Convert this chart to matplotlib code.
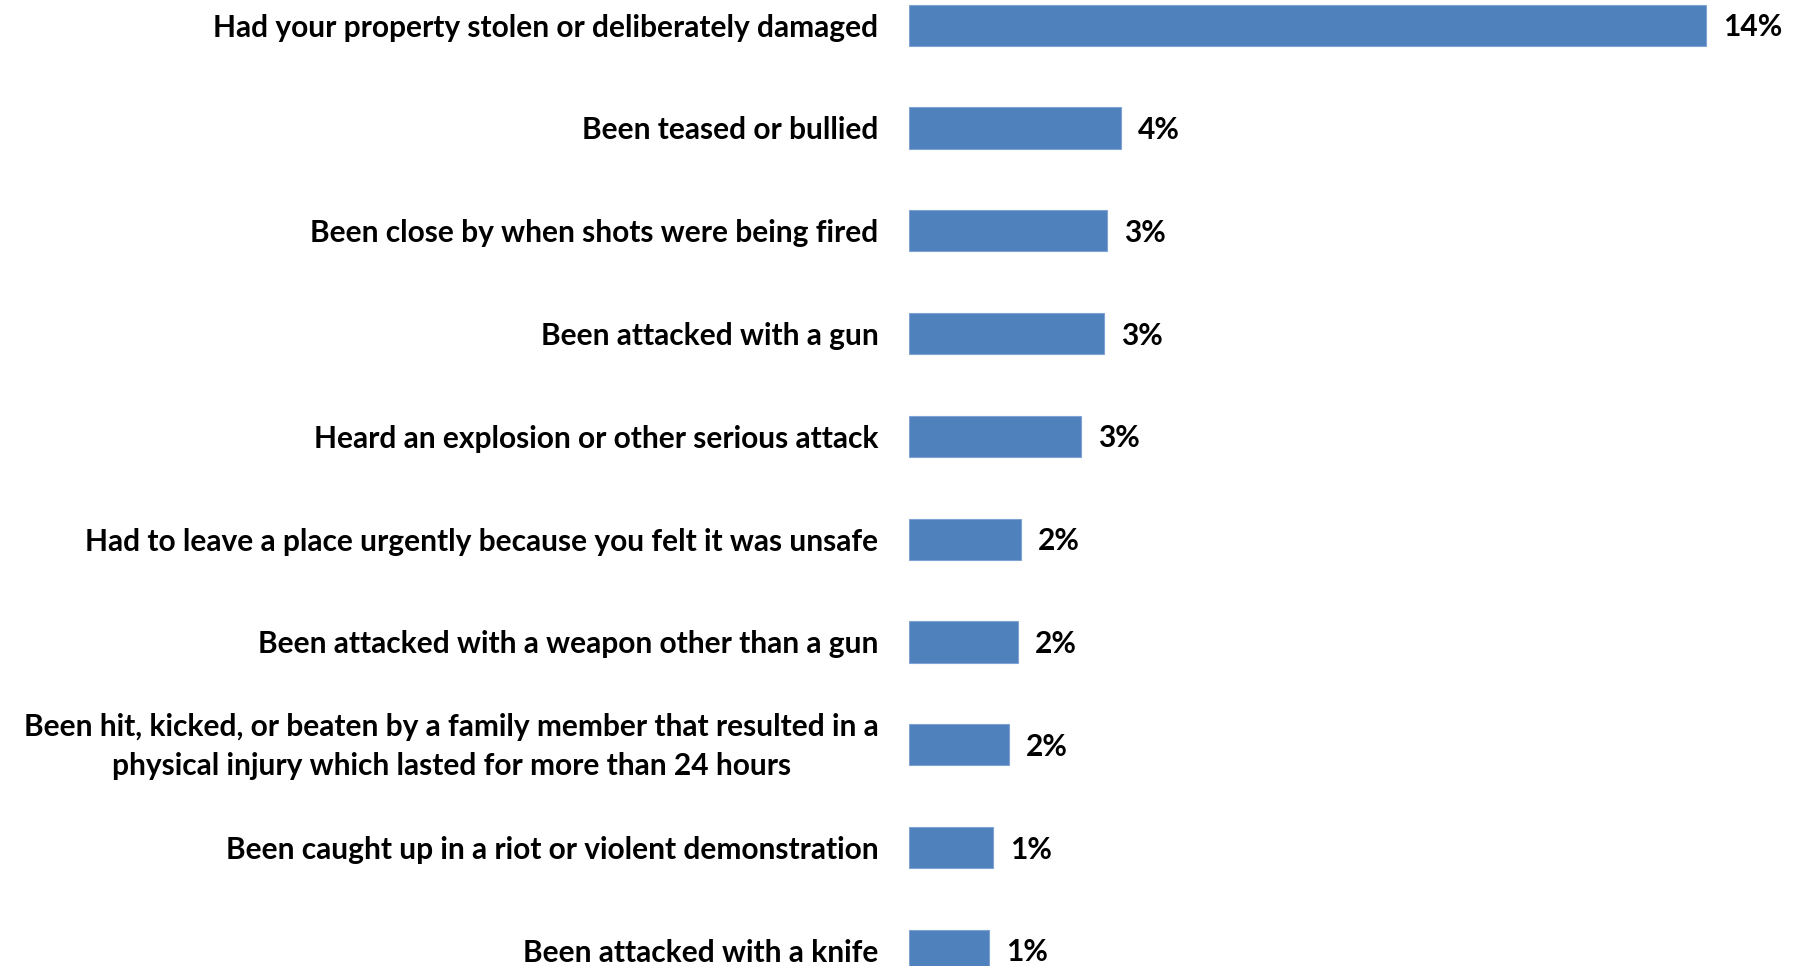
import matplotlib.pyplot as plt
import matplotlib.transforms as mtransforms

categories = [
    "Had your property stolen or deliberately damaged",
    "Been teased or bullied",
    "Been close by when shots were being fired",
    "Been attacked with a gun",
    "Heard an explosion or other serious attack",
    "Had to leave a place urgently because you felt it was unsafe",
    "Been attacked with a weapon other than a gun",
    "Been hit, kicked, or beaten by a family member that resulted in a\nphysical injury which lasted for more than 24 hours",
    "Been caught up in a riot or violent demonstration",
    "Been attacked with a knife",
]
values = [14.0, 3.73, 3.47, 3.43, 3.02, 1.96, 1.92, 1.75, 1.47, 1.41]
value_labels = ["14%", "4%", "3%", "3%", "3%", "2%", "2%", "2%", "1%", "1%"]

W, H = 1793, 966
fig = plt.figure(figsize=(W / 100, H / 100), dpi=100)

# axes spans from the bar baseline to the right edge, full height (chart is cropped)
x0 = 909
px_per_pct = (1706 - x0) / values[0]
ax = fig.add_axes([x0 / W, 0, 1 - x0 / W, 1])

pitch = 102.8
first = 25.2
ax.set_ylim((H - first) / pitch, -first / pitch)
ax.set_xlim(0, (W - x0) / px_per_pct)

pos = list(range(len(categories)))
ax.barh(pos, values, height=0.4, color="#4F81BD", edgecolor="#7FA3D3", linewidth=0.8)

font = "Lato"
fs = 21.5
ax.set_yticks(pos)
labels = ax.set_yticklabels(categories, fontsize=fs, fontweight="bold", family=font,
                            multialignment="center", linespacing=1.45)
ax.tick_params(axis="y", length=0, pad=22)
ax.set_xticks([])
for s in ax.spines.values():
    s.set_visible(False)

# two-line label sits a bit high in the original
for t in labels:
    if "\n" in t.get_text():
        t.set_transform(t.get_transform() + mtransforms.ScaledTranslation(0, 0.06, fig.dpi_scale_trans))

for p, v, lab in zip(pos, values, value_labels):
    ax.annotate(lab, (v, p), xytext=(17, -2), textcoords="offset pixels",
                va="center", ha="left", fontsize=fs, fontweight="bold", family=font)

fig.savefig("out.png", dpi=100)
